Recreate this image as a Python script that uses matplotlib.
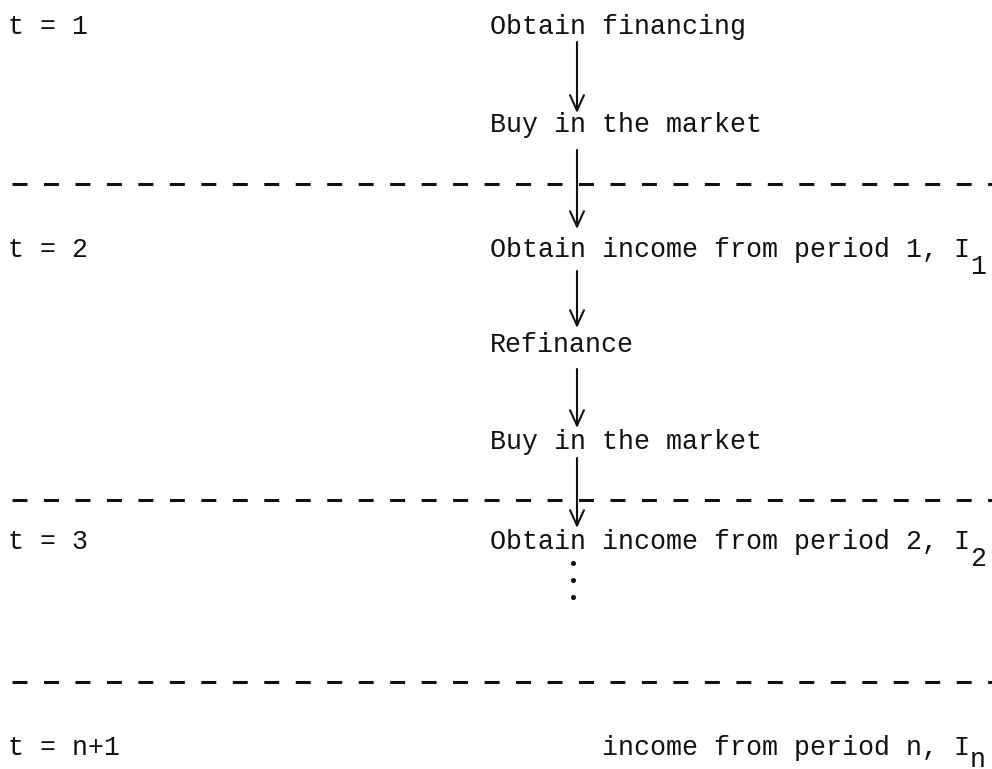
import matplotlib
matplotlib.use('Agg')
import matplotlib.pyplot as plt

# page is laid out in pixel coordinates, y growing downward
W, H = 992, 769
PITCH = 16          # typewriter character pitch, px
TEXT_X = 490        # left edge of the middle column
ARROW_X = 577

period_labels = ['t = 1', 't = 2', 't = 3', 't = n+1']
period_y = [34, 257, 549, 755]

step_text = ['Obtain financing', 'Buy in the market',
             'Obtain income from period 1, I', 'Refinance', 'Buy in the market',
             'Obtain income from period 2, I', '       income from period n, I']
step_y = [34, 132, 257, 352, 449, 549, 755]
step_sub = ['', '', '1', '', '', '2', 'n']
sub_drop = [0, 0, 17, 0, 0, 17, 12]   # last one sits on the page edge

arrow_spans = [(42, 113), (150, 229), (271, 328), (369, 428), (458, 528)]
divider_y = [184, 500, 682]
dots_y = [563, 580, 597]

font = dict(family=['Liberation Mono', 'DejaVu Sans Mono'], size=19.2, color='#111111')

fig = plt.figure(figsize=(W / 100, H / 100), dpi=100)
ax = fig.add_axes([0, 0, 1, 1])
ax.set_xlim(0, W)
ax.set_ylim(H, 0)
ax.axis('off')

for y in divider_y:
  ax.plot([12, W], [y, y], color='#111111', lw=2.2, dashes=(4.9, 5.4), solid_capstyle='butt')

for lab, y in zip(period_labels, period_y):
  ax.text(8, y, lab, va='baseline', ha='left', **font)

for txt, y, sub, dy in zip(step_text, step_y, step_sub, sub_drop):
  ax.text(TEXT_X, y, txt, va='baseline', ha='left', **font)
  if sub:
    ax.text(TEXT_X + len(txt) * PITCH, y + dy, sub, va='baseline', ha='left', **font)

for y0, y1 in arrow_spans:
  ax.annotate('', xy=(ARROW_X, y1), xytext=(ARROW_X, y0),
              arrowprops=dict(arrowstyle='->,head_length=1.1,head_width=0.5',
                              color='#111111', lw=1.5, shrinkA=0, shrinkB=0))

ax.plot([573] * len(dots_y), dots_y, 'o', color='#111111', ms=2.6)

fig.savefig('out.png', dpi=100, facecolor='white')
